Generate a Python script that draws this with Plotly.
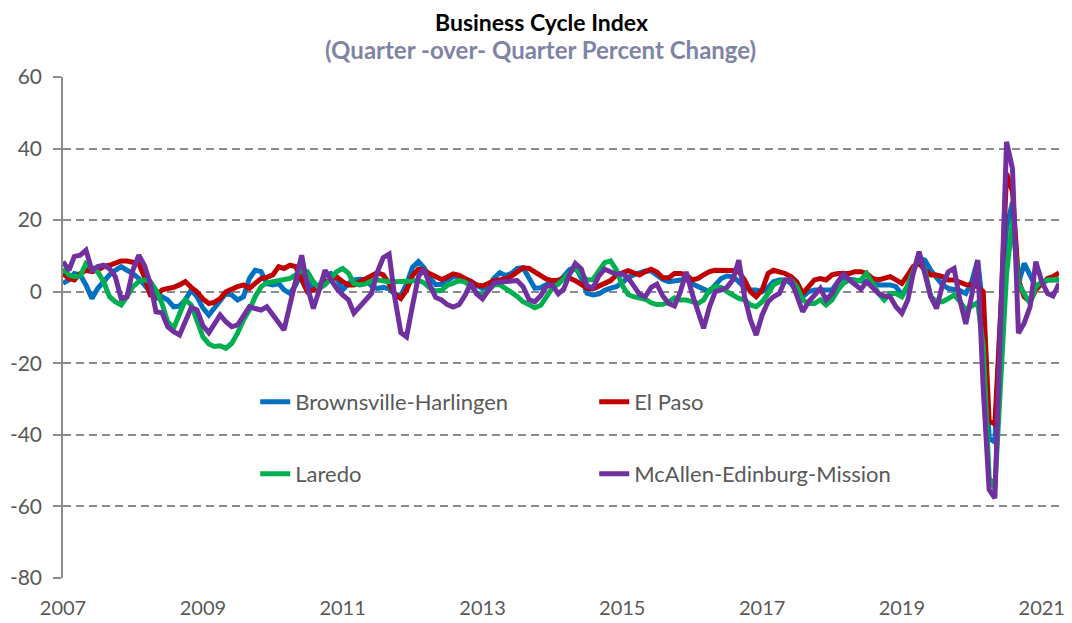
import pandas as pd
import plotly.graph_objects as go

# monthly, Jan 2007 .. Apr 2021
months = pd.date_range("2007-01-01", periods=172, freq="MS")

brownsville = [
    2.3, 3.3, 5.1, 4.7, 1.9, -1.9, 0.9, 2.8, 4.7, 6.0,
    7.0, 6.0, 5.1, 3.7, 1.9, -0.5, -1.9, -1.4, -2.3, -4.2,
    -4.0, -2.3, 0.5, -1.4, -4.5, -6.5, -4.5, -2.3, -0.5, -0.9,
    -2.3, -1.4, 3.7, 6.0, 5.6, 2.3, 1.9, 2.3, 0.5, -0.5,
    1.9, 5.6, 2.8, 0.9, 1.4, 4.7, 5.1, 3.7, 0.5, 2.3,
    3.3, 3.5, 3.4, 1.6, 0.9, 1.2, 0.8, -0.7, -1.1, 2.1,
    6.8, 8.4, 6.7, 3.9, 2.0, 2.0, 3.2, 4.2, 4.1, 3.4,
    3.0, 1.8, 0.9, 1.4, 3.7, 5.3, 4.5, 5.1, 6.5, 6.7,
    4.0, 1.0, 1.1, 2.0, 2.0, 2.2, 4.3, 6.2, 6.8, 3.9,
    -0.4, -0.9, -0.6, 0.4, 1.0, 1.4, 2.5, 4.0, 4.7, 5.1,
    5.8, 5.8, 4.7, 3.4, 2.8, 3.0, 3.4, 3.5, 2.2, 1.4,
    0.5, 0.0, 1.9, 3.7, 4.4, 4.2, 2.8, 1.2, 0.5, 0.5,
    0.0, 1.2, 2.8, 3.3, 3.3, 2.3, 0.0, -1.4, 0.0, 0.5,
    0.5, 0.5, 0.5, 2.8, 4.0, 3.5, 3.3, 3.3, 2.8, 2.3,
    1.9, 1.9, 1.9, 1.4, -0.9, 1.4, 6.0, 9.3, 8.8, 6.0,
    3.7, 1.9, 0.9, 0.5, 0.3, -0.5, 2.8, 8.8, -5.0, -41.0,
    -42.0, -5.0, 18.0, 25.0, 2.3, 7.9, 4.7, 1.4, 2.3, 3.3,
    3.3, 3.3,
]

el_paso = [
    5.1, 3.7, 3.3, 5.1, 6.0, 5.6, 6.0, 7.0, 7.4, 8.1,
    8.6, 8.6, 8.4, 7.9, 4.2, -0.9, -1.4, 0.5, 0.9, 1.2,
    1.9, 2.8, 1.2, 0.0, -2.0, -3.3, -3.0, -1.9, 0.0, 0.9,
    1.4, 1.9, 0.9, 2.3, 3.7, 4.0, 4.7, 7.0, 6.5, 7.4,
    7.0, 3.3, 0.0, 0.5, 1.9, 2.8, 3.3, 4.2, 2.8, 1.9,
    1.9, 2.8, 3.4, 4.3, 5.3, 4.7, 2.3, -0.7, -1.9, 0.4,
    4.5, 6.3, 6.0, 5.0, 4.1, 3.4, 4.1, 5.0, 4.6, 3.7,
    3.0, 1.9, 1.6, 2.3, 3.0, 3.3, 3.6, 4.4, 5.6, 6.7,
    6.5, 5.4, 4.3, 3.5, 3.1, 3.2, 3.9, 3.8, 3.1, 2.2,
    1.0, 0.8, 1.6, 2.1, 3.1, 4.6, 5.4, 5.9, 5.3, 4.7,
    5.6, 6.3, 5.5, 3.9, 3.9, 5.1, 5.1, 4.7, 3.3, 3.7,
    4.7, 5.6, 6.0, 6.0, 6.0, 5.9, 5.6, 3.3, 0.0, -1.4,
    0.5, 5.1, 6.0, 5.6, 5.1, 4.2, 2.8, -0.5, 1.4, 3.3,
    3.7, 3.3, 4.7, 5.1, 5.1, 5.1, 5.6, 5.6, 5.1, 3.7,
    3.3, 3.7, 4.2, 3.3, 2.3, 4.7, 7.0, 8.0, 6.0, 4.7,
    4.7, 4.2, 3.3, 3.3, 2.5, 2.0, 1.9, 1.4, 0.0, -36.0,
    -37.0, -5.0, 33.0, 28.0, 3.3, -1.4, -2.8, 0.5, 2.3, 3.7,
    4.2, 5.3,
]

laredo = [
    6.5, 4.7, 4.2, 4.4, 7.9, 6.5, 5.6, 2.8, -1.4, -2.8,
    -3.7, -1.4, 1.4, 2.8, 3.3, 2.8, 0.5, -3.3, -8.4, -10.2,
    -6.0, -2.3, -3.7, -8.4, -12.6, -14.6, -15.3, -15.1, -15.8, -14.4,
    -11.6, -7.9, -5.1, -1.4, 1.4, 2.5, 2.8, 3.3, 3.3, 3.7,
    4.7, 6.0, 5.6, 2.8, 0.9, 1.9, 3.7, 5.6, 6.5, 5.1,
    2.3, 1.9, 2.2, 3.0, 3.3, 3.0, 2.8, 2.8, 2.8, 2.8,
    3.0, 3.2, 2.5, 1.0, 0.2, 0.4, 1.8, 2.4, 3.1, 2.7,
    1.6, -0.3, -0.9, 0.3, 1.9, 2.0, 1.1, -0.2, -1.3, -2.8,
    -3.6, -4.5, -3.8, -1.4, 1.0, 2.2, 3.6, 5.4, 6.7, 4.7,
    3.3, 3.4, 6.0, 8.1, 8.6, 6.2, 1.8, -0.8, -1.4, -1.6,
    -2.1, -3.1, -3.6, -3.5, -2.9, -1.7, -2.3, -2.3, -2.8, -3.3,
    -2.3, 0.5, 1.4, 1.2, 0.0, -0.9, -1.9, -2.3, -3.7, -4.2,
    -2.8, -0.5, 1.9, 2.8, 3.1, 3.3, 1.4, -2.3, -3.3, -3.3,
    -2.3, -3.7, -2.3, 0.5, 2.3, 3.3, 2.8, 3.3, 5.1, 2.3,
    -0.5, -2.3, -0.5, -0.5, -1.4, 1.9, 6.0, 10.0, 6.0, -1.4,
    -2.8, -2.8, -1.9, -0.9, -2.8, -5.0, -4.0, -3.0, -15.0, -52.0,
    -55.0, -25.0, 5.0, 20.0, 2.3, -0.5, -3.3, 1.4, 2.8, 3.3,
    3.3, 3.5,
]

mcallen = [
    8.4, 6.0, 9.8, 10.2, 11.6, 6.0, 7.0, 7.4, 6.5, 4.2,
    -1.9, -1.4, 6.0, 10.2, 7.4, 2.3, -5.6, -5.9, -9.8, -11.2,
    -12.1, -8.4, -4.4, -5.1, -9.5, -11.5, -9.0, -6.5, -8.4, -9.8,
    -9.3, -6.5, -4.2, -4.7, -5.1, -4.2, -6.5, -8.8, -10.7, -3.6,
    3.3, 10.2, 1.4, -4.7, 0.5, 6.0, 3.3, 0.9, -0.9, -2.3,
    -6.0, -4.0, -2.3, -0.5, 5.4, 9.5, 10.5, -1.8, -11.4, -12.6,
    -3.9, 4.2, 6.4, 1.8, -1.6, -2.3, -3.6, -4.3, -3.6, -1.1,
    2.4, -0.6, -2.0, 0.6, 2.4, 2.7, 2.8, 2.8, 3.1, 1.4,
    -2.2, -2.8, -1.1, 1.5, 1.8, -0.6, 0.7, 4.9, 7.9, 6.4,
    1.6, 1.1, 4.4, 6.3, 5.6, 4.9, 5.0, 3.8, 1.7, -0.7,
    -1.4, 1.2, 2.1, -1.2, -3.3, -4.0, 0.0, 5.5, -0.5, -5.0,
    -10.2, -4.2, 0.0, 0.5, 1.2, 3.3, 8.8, -1.4, -7.9, -12.1,
    -6.5, -2.8, -1.4, -0.5, 3.3, 3.3, -1.4, -5.6, -2.8, -0.9,
    0.9, -2.3, -0.5, 2.8, 5.0, 3.3, 1.8, 0.7, 2.8, 1.2,
    -0.5, -1.2, -1.4, -4.2, -6.0, -2.3, 5.0, 11.2, 5.6, -1.4,
    -4.7, 1.9, 5.6, 6.5, -2.5, -9.0, -1.0, 8.8, -27.0, -55.3,
    -57.7, -8.0, 41.9, 34.4, -11.6, -8.8, -4.2, 8.4, 2.8, -0.5,
    -1.2, 2.3,
]

y_ticks = [-80, -60, -40, -20, 0, 20, 40, 60]

series = [
    ("Brownsville-Harlingen", brownsville, "#0070C0", "legend"),
    ("El Paso", el_paso, "#C00000", "legend"),
    ("Laredo", laredo, "#00B050", "legend2"),
    ("McAllen-Edinburg-Mission", mcallen, "#7030A0", "legend2"),
]

FONT = "Lato"
GRID = "#8c8c8c"
TEXT = "#595959"

fig = go.Figure()
for name, vals, color, leg in series:
    fig.add_trace(go.Scatter(x=months, y=vals, name=name, mode="lines",
                             line=dict(color=color, width=5),
                             legend=leg, hoverinfo="x+y+name"))

x_range = [months[0], months[-1]]

# the page body keeps its default 8px margin: the figure starts at (8, 8)
W, H = 1064, 615
L, R, T, B = 55, 13, 69, 45
plot_h = H - T - B


def fig_y(px):
    # figure pixel row -> paper y
    return (H - B - px) / plot_h


fig.update_layout(
    width=W, height=H,
    margin=dict(l=L, r=R, t=T, b=B),
    paper_bgcolor="white", plot_bgcolor="white",
    font=dict(family=FONT, size=21, color=TEXT),
    xaxis=dict(range=x_range, tick0="2007-01-01", dtick="M24", tickformat="%Y",
               showgrid=False, showline=False, zeroline=False, ticks="",
               automargin=False, ticklabelstandoff=16,
               tickfont=dict(size=20, color=TEXT)),
    # zero line with yearly tick marks, like the category axis crossing at 0
    xaxis2=dict(range=x_range, overlaying="x", anchor="free", position=80 / 140,
                showline=True, linecolor=GRID, linewidth=1.5,
                ticks="outside", ticklen=6, tickwidth=1.5, tickcolor=GRID,
                tick0="2007-01-01", dtick="M12", showticklabels=False,
                showgrid=False, zeroline=False, automargin=False),
    yaxis=dict(range=[-80, 60], tickvals=y_ticks, ticktext=[str(v) for v in y_ticks],
               showgrid=True, gridcolor=GRID,
               gridwidth=1.5, griddash="8px,5px", zeroline=False,
               showline=True, linecolor=GRID, linewidth=1.5,
               ticks="outside", ticklen=8, tickwidth=1.5, tickcolor=GRID,
               automargin=False, ticklabelstandoff=7,
               tickfont=dict(size=21, color=TEXT)),
    legend=dict(orientation="h", x=0.193, y=fig_y(394), xanchor="left", yanchor="middle",
                bgcolor="rgba(0,0,0,0)", entrywidth=294, entrywidthmode="pixels",
                font=dict(size=22, color=TEXT), traceorder="normal"),
    legend2=dict(orientation="h", x=0.193, y=fig_y(466), xanchor="left", yanchor="middle",
                 bgcolor="rgba(0,0,0,0)", entrywidth=294, entrywidthmode="pixels",
                 font=dict(size=22, color=TEXT), traceorder="normal"),
    showlegend=True,
)

fig.add_annotation(text="<b>Business Cycle Index</b>", xref="paper", yref="paper",
                   x=0.48, y=fig_y(14), xanchor="center", yanchor="middle",
                   showarrow=False, font=dict(family=FONT, size=23, color="black"))
fig.add_annotation(text="<b>(Quarter -over- Quarter Percent Change)</b>", xref="paper",
                   yref="paper", x=0.479, y=fig_y(42), xanchor="center",
                   yanchor="middle", showarrow=False,
                   font=dict(family=FONT, size=24, color="#7F84A6"))

fig.write_html("out.html")
